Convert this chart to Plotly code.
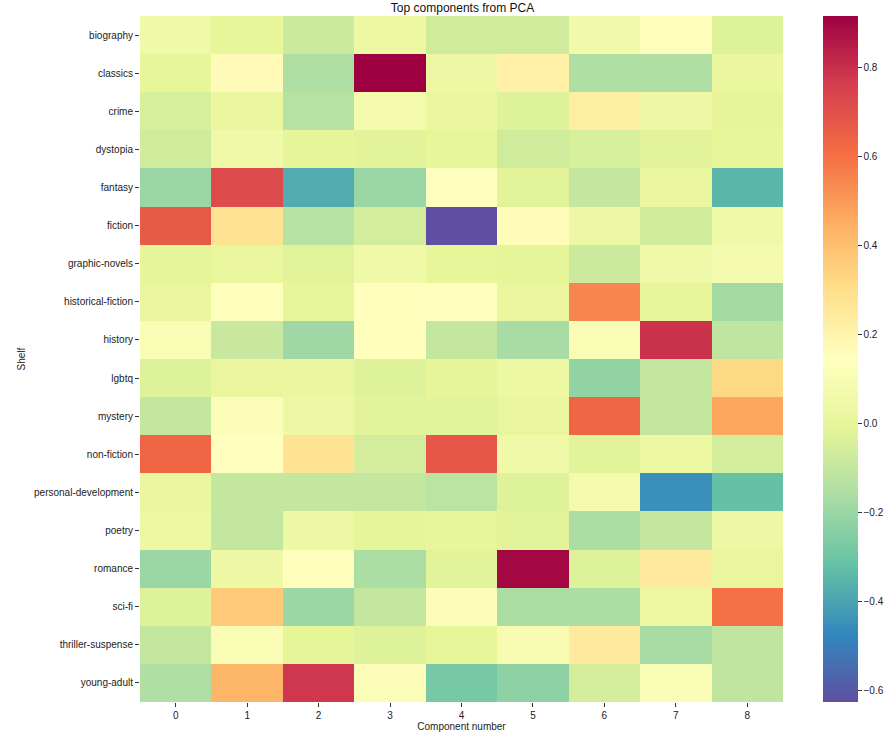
import plotly.graph_objects as go

shelves = ["biography", "classics", "crime", "dystopia", "fantasy", "fiction",
           "graphic-novels", "historical-fiction", "history", "lgbtq", "mystery",
           "non-fiction", "personal-development", "poetry", "romance", "sci-fi",
           "thriller-suspense", "young-adult"]
components = [0, 1, 2, 3, 4, 5, 6, 7, 8]

biography = [0.05, 0.0, -0.08, 0.03, -0.07, -0.07, 0.06, 0.13, -0.03]
classics = [0.0, 0.17, -0.15, 0.917, 0.04, 0.22, -0.15, -0.15, 0.02]
crime = [-0.05, 0.02, -0.13, 0.07, 0.02, -0.03, 0.23, 0.04, -0.01]
dystopia = [-0.07, 0.05, -0.01, -0.02, 0.0, -0.07, -0.05, -0.02, 0.0]
fantasy = [-0.2, 0.72, -0.38, -0.2, 0.14, -0.02, -0.1, 0.01, -0.35]
fiction = [0.67, 0.28, -0.13, -0.06, -0.627, 0.16, 0.04, -0.07, 0.05]
graphic_novels = [-0.01, 0.01, -0.02, 0.05, 0.0, -0.01, -0.08, 0.05, 0.08]
historical_fiction = [0.01, 0.13, 0.0, 0.15, 0.14, 0.01, 0.55, 0.0, -0.18]
history = [0.1, -0.09, -0.19, 0.15, -0.1, -0.17, 0.1, 0.79, -0.11]
lgbtq = [-0.03, 0.01, 0.02, -0.03, -0.01, 0.03, -0.22, -0.1, 0.32]
mystery = [-0.1, 0.12, 0.04, -0.02, -0.02, 0.01, 0.63, -0.1, 0.47]
non_fiction = [0.63, 0.14, 0.28, -0.06, 0.68, 0.05, -0.02, 0.03, -0.06]
personal_development = [0.02, -0.1, -0.1, -0.1, -0.12, -0.03, 0.07, -0.45, -0.32]
poetry = [0.03, -0.1, 0.04, -0.01, 0.0, -0.02, -0.16, -0.1, 0.04]
romance = [-0.2, 0.04, 0.15, -0.16, -0.02, 0.9, -0.03, 0.25, 0.01]
sci_fi = [-0.03, 0.37, -0.2, -0.1, 0.12, -0.16, -0.16, 0.03, 0.6]
thriller_suspense = [-0.1, 0.1, -0.01, -0.03, 0.0, 0.09, 0.25, -0.17, -0.11]
young_adult = [-0.15, 0.43, 0.78, 0.12, -0.28, -0.23, -0.06, 0.1, -0.11]

z = [biography, classics, crime, dystopia, fantasy, fiction, graphic_novels,
     historical_fiction, history, lgbtq, mystery, non_fiction,
     personal_development, poetry, romance, sci_fi, thriller_suspense, young_adult]

colorbar_ticks = [-0.6, -0.4, -0.2, 0.0, 0.2, 0.4, 0.6, 0.8]

FONT = "Liberation Sans, Arial, sans-serif"

fig = go.Figure(go.Heatmap(
    z=z, x=components, y=shelves,
    colorscale="Spectral", reversescale=True,
    xgap=0, ygap=0,
    colorbar=dict(
        thickness=35, thicknessmode="pixels", len=1.0, lenmode="fraction",
        y=0.5, yanchor="middle",
        x=1.062, xanchor="left", xpad=0, ypad=0, outlinewidth=0,
        tickvals=colorbar_ticks,
        ticktext=[f"{v:.1f}".replace("-", "\u2212") for v in colorbar_ticks],
        ticks="outside", ticklen=4, tickcolor="#333",
        tickfont=dict(family=FONT, size=10, color="#222"),
    ),
))

fig.update_layout(
    width=893, height=738,
    margin=dict(l=140, r=110, t=16, b=36, autoexpand=False),
    paper_bgcolor="white", plot_bgcolor="white",
    title=dict(text="Top components from PCA", x=0.518, xanchor="center",
               y=0.995, yanchor="top", pad=dict(t=0, b=0),
               font=dict(family=FONT, size=12, color="#111")),
    font=dict(family=FONT, size=10, color="#222"),
    xaxis=dict(
        tickmode="array", tickvals=components, ticktext=[str(c) for c in components],
        ticks="outside", ticklen=4, tickcolor="#333", showgrid=False, zeroline=False,
        title=dict(text="Component number", font=dict(size=10), standoff=2),
        tickfont=dict(size=10),
    ),
    yaxis=dict(
        autorange="reversed", ticks="outside", ticklen=4, tickcolor="#333",
        showgrid=False, zeroline=False,
        title=dict(text="Shelf", font=dict(size=10), standoff=6),
        tickfont=dict(size=10),
    ),
)

fig.write_html("out.html", config={"displayModeBar": False},
               post_script="document.body.style.margin='0';")
